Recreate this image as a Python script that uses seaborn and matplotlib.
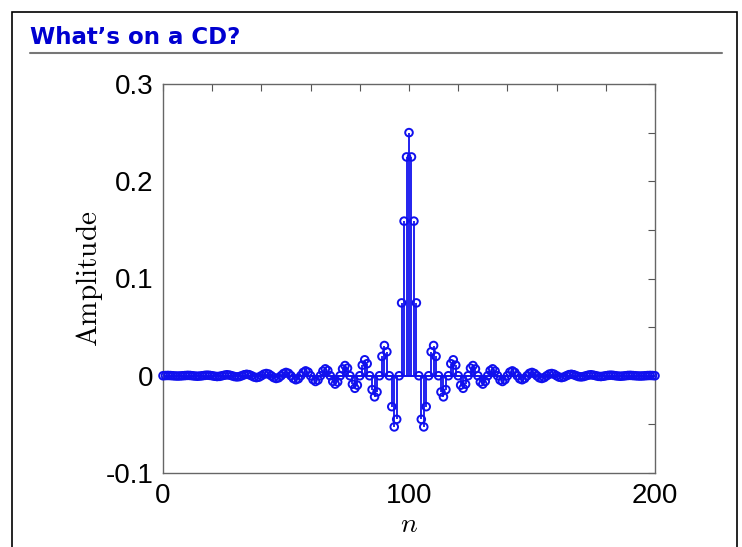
import numpy as np
import pandas as pd
import matplotlib
matplotlib.use("Agg")
import matplotlib.pyplot as plt
from matplotlib.patches import Rectangle
from matplotlib.lines import Line2D
import seaborn as sns

# amostras: lado direito do pico (n = 101..200)
right_side = [
    0.2250, 0.1590, 0.0749, 0.0, -0.0448, -0.0526, -0.0318, 0.0,
    0.0246, 0.0311, 0.0199, 0.0, -0.0167, -0.0217, -0.0143, 0.0,
    0.0124, 0.0164, 0.0109, 0.0, -0.0097, -0.0129, -0.0087, 0.0,
    0.0078, 0.0105, 0.0070, 0.0, -0.0064, -0.0086, -0.0058, 0.0,
    0.0053, 0.0071, 0.0048, 0.0, -0.0044, -0.0059, -0.0040, 0.0,
    0.0037, 0.0050, 0.0034, 0.0, -0.0031, -0.0041, -0.0028, 0.0,
    0.0025, 0.0034, 0.0023, 0.0, -0.0021, -0.0028, -0.0019, 0.0,
    0.0017, 0.0023, 0.0016, 0.0, -0.0014, -0.0019, -0.0013, 0.0,
    0.0011, 0.0015, 0.0010, 0.0, -0.0009, -0.0012, -0.0008, 0.0,
    0.0007, 0.0010, 0.0006, 0.0, -0.0006, -0.0008, -0.0005, 0.0,
    0.0004, 0.0006, 0.0004, 0.0, -0.0003, -0.0005, -0.0003, 0.0,
    0.0003, 0.0004, 0.0002, 0.0, -0.0002, -0.0003, -0.0002, 0.0,
    0.0002, 0.0003, 0.0002, 0.0,
]
peak = [0.25]
# lado esquerdo (n = 0..99), espelho do direito
left_side = [
    0.0, 0.0002, 0.0003, 0.0002,
    0.0, -0.0002, -0.0003, -0.0002, 0.0, 0.0002, 0.0004, 0.0003,
    0.0, -0.0003, -0.0005, -0.0003, 0.0, 0.0004, 0.0006, 0.0004,
    0.0, -0.0005, -0.0008, -0.0006, 0.0, 0.0006, 0.0010, 0.0007,
    0.0, -0.0008, -0.0012, -0.0009, 0.0, 0.0010, 0.0015, 0.0011,
    0.0, -0.0013, -0.0019, -0.0014, 0.0, 0.0016, 0.0023, 0.0017,
    0.0, -0.0019, -0.0028, -0.0021, 0.0, 0.0023, 0.0034, 0.0025,
    0.0, -0.0028, -0.0041, -0.0031, 0.0, 0.0034, 0.0050, 0.0037,
    0.0, -0.0040, -0.0059, -0.0044, 0.0, 0.0048, 0.0071, 0.0053,
    0.0, -0.0058, -0.0086, -0.0064, 0.0, 0.0070, 0.0105, 0.0078,
    0.0, -0.0087, -0.0129, -0.0097, 0.0, 0.0109, 0.0164, 0.0124,
    0.0, -0.0143, -0.0217, -0.0167, 0.0, 0.0199, 0.0311, 0.0246,
    0.0, -0.0318, -0.0526, -0.0448, 0.0, 0.0749, 0.1590, 0.2250,
]
amplitude = left_side + peak + right_side
n_values = list(range(len(amplitude)))

title_text = "What\u2019s on a CD?"
x_ticks = [0, 100, 200]
y_ticks = [-0.1, 0, 0.1, 0.2, 0.3]
y_ticklabels = ["-0.1", "0", "0.1", "0.2", "0.3"]

df = pd.DataFrame({"n": n_values, "amp": amplitude})

sns.set_style("white")
plt.rcParams["font.family"] = ["Liberation Sans", "DejaVu Sans"]
plt.rcParams["mathtext.fontset"] = "cm"

blue = "#1010ee"
fig = plt.figure(figsize=(7.42, 5.47), dpi=100)
ax = fig.add_axes([163 / 742, 1 - 473 / 547, (655 - 163) / 742, (473 - 84) / 547])

# hastes e linha de base
ax.vlines(df["n"], 0, df["amp"], color=blue, linewidth=1.3, zorder=2)
ax.hlines(0, 0, 200, color=blue, linewidth=1.4, zorder=2)
sns.scatterplot(data=df, x="n", y="amp", ax=ax, marker="o", s=30,
                facecolor="none", edgecolor=blue, linewidth=1.4, zorder=3,
                legend=False, clip_on=False)

ax.set_xlim(0, 200)
ax.set_ylim(-0.1, 0.3)
ax.set_xticks(x_ticks)
ax.set_xticklabels([str(t) for t in x_ticks])
ax.set_xticks(np.arange(0, 201, 20), minor=True)
ax.set_yticks(y_ticks)
ax.set_yticklabels(y_ticklabels)
ax.set_yticks(np.arange(-0.1, 0.301, 0.05), minor=True)
ax.tick_params(which="both", direction="in", top=True, right=True,
               color="#555555", width=0.8, labelcolor="black")
ax.tick_params(which="major", length=5, labelsize=20, pad=7)
ax.tick_params(which="minor", length=5)
for s in ax.spines.values():
    s.set_color("#666666")
    s.set_linewidth(1.0)

ax.set_xlabel(r"$n$", fontsize=20, labelpad=2, color="black")
ax.set_ylabel(r"$\mathrm{Amplitude}$", fontsize=21, labelpad=0, color="black")

# moldura e titulo no estilo slide
fig.patches.append(Rectangle((12 / 742, -0.1), 725 / 742, 1.1 - 12 / 547,
                             transform=fig.transFigure, fill=False,
                             edgecolor="black", linewidth=1.2))
fig.lines.append(Line2D([30 / 742, 722 / 742], [1 - 53 / 547, 1 - 53 / 547],
                        transform=fig.transFigure, color="#777777", linewidth=1.5))
fig.text(30 / 742, 1 - 38 / 547, title_text, color="#0000d0", fontsize=16.5,
         fontweight="bold", va="center", ha="left",
         family=["DejaVu Sans"])

fig.savefig("out.png", dpi=100)
